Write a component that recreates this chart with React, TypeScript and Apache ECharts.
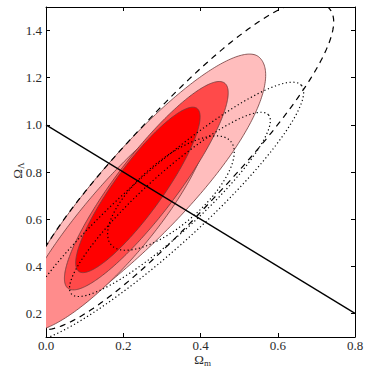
import React, { useEffect, useRef } from "react";
import * as echarts from "echarts";

const xTicks = [0.0, 0.2, 0.4, 0.6, 0.8];
const yTicks = [0.2, 0.4, 0.6, 0.8, 1.0, 1.2, 1.4];
const flatOmegaM = [0.0, 0.8];
const flatOmegaL = [1.0, 0.2];

// contour: [centerX, centerY, tipX, tipY, upperWidthRatio, lowerWidthRatio, upperEgg, lowerEgg, power]
const fillOuter = [0.2389, 0.7088, 0.5518, 1.2871, 0.2308, 0.2527, 0.05, 0.18, 2];
const fillSecond = [0.173, 0.5968, 0.4091, 1.0572, 0.219, 0.2825, 0, 0, 2];
const fillThird = [0.2597, 0.7419, 0.4625, 1.1772, 0.2326, 0.2326, 0, 0, 2];
const fillCore = [0.2379, 0.7241, 0.3909, 1.0699, 0.2386, 0.2386, 0, 0, 2];
const dashedOuter = [0.3435, 0.828, 0.7282, 1.5026, 0.2437, 0.2207, 0, 0, 2.3];
const dottedOuter = [0.2949, 0.6286, 0.6612, 1.1679, 0.2, 0.2, 0, 0, 2];
const dottedMiddle = [0.3209, 0.6626, 0.5759, 1.0427, 0.218, 0.218, 0, 0, 2];
const dottedInner = [0.3235, 0.7105, 0.4781, 0.9303, 0.405, 0.405, 0, 0, 2];

const fillColors = ["#ffbdbd", "#ff8c8c", "#ff4a4a", "#ff0000"];
const FONT = "Liberation Serif";

function contourPoints(api: any) {
  const c = api.coord([api.value(0), api.value(1)]);
  const t = api.coord([api.value(2), api.value(3)]);
  const rUp = api.value(4);
  const rLo = api.value(5);
  const kUp = api.value(6);
  const kLo = api.value(7);
  const p = api.value(8);
  const ux = t[0] - c[0];
  const uy = t[1] - c[1];
  const pts: number[][] = [];
  const N = 300;
  for (let i = 0; i <= N; i++) {
    const th = (i / N) * 2 * Math.PI;
    const co = Math.cos(th);
    const si = Math.sin(th);
    const cc = Math.sign(co) * Math.pow(Math.abs(co), 2 / p);
    const ss = Math.sign(si) * Math.pow(Math.abs(si), 2 / p);
    const r = ss < 0 ? rUp * (1 + kUp * cc) : rLo * (1 + kLo * cc);
    const nx = -uy * r;
    const ny = ux * r;
    pts.push([c[0] + ux * cc + nx * ss, c[1] + uy * cc + ny * ss]);
  }
  return pts;
}

function clipRect(params: any) {
  return {
    type: "rect",
    shape: {
      x: params.coordSys.x,
      y: params.coordSys.y,
      width: params.coordSys.width,
      height: params.coordSys.height,
    },
  };
}

function fillSeries(e: number[], color: string, z: number) {
  return {
    type: "custom",
    coordinateSystem: "cartesian2d",
    clip: true,
    silent: true,
    z,
    data: [e],
    encode: { x: [0, 2], y: [1, 3] },
    renderItem: (params: any, api: any) => ({
      type: "polygon",
      shape: { points: contourPoints(api) },
      clipPath: clipRect(params),
      style: { fill: color, stroke: "#6e3a3a", lineWidth: 0.8 },
    }),
  };
}

function outlineSeries(e: number[], dash: number[], z: number) {
  return {
    type: "custom",
    coordinateSystem: "cartesian2d",
    clip: true,
    silent: true,
    z,
    data: [e],
    encode: { x: [0, 2], y: [1, 3] },
    renderItem: (params: any, api: any) => ({
      type: "polyline",
      shape: { points: contourPoints(api) },
      clipPath: clipRect(params),
      style: {
        fill: "none",
        stroke: "#000",
        lineWidth: 1.2,
        lineDash: dash,
        lineCap: "butt",
      },
    }),
  };
}

export default function App() {
  const ref = useRef<HTMLDivElement>(null);
  useEffect(() => {
    document.body.style.margin = "0";
    const chart = echarts.init(ref.current!, null, { renderer: "svg" });
    const axisLine = { show: true, onZero: false, lineStyle: { color: "#000", width: 1 } };
    const tick = { show: true, inside: true, length: 4, lineStyle: { color: "#000", width: 1 } };
    const fmt = (v: number) => v.toFixed(1);
    const labelStyle = {
      margin: 4,
      fontFamily: FONT,
      fontSize: 13,
      lineHeight: 11,
      color: "#2a2a2a",
      formatter: fmt,
    };
    chart.setOption({
      animation: false,
      grid: { left: 46, top: 7, right: 19, bottom: 37 },
      xAxis: [
        {
          type: "value",
          min: 0,
          max: 0.8,
          interval: 0.2,
          position: "bottom",
          axisLine,
          axisTick: { ...tick, customValues: xTicks },
          axisLabel: { ...labelStyle, customValues: xTicks, margin: 3 },
          splitLine: { show: false },
        },
        {
          type: "value",
          min: 0,
          max: 0.8,
          interval: 0.2,
          position: "top",
          axisLine,
          axisTick: { ...tick, customValues: xTicks },
          axisLabel: { show: false },
          splitLine: { show: false },
        },
      ],
      yAxis: [
        {
          type: "value",
          min: 0.1,
          max: 1.5,
          position: "left",
          axisLine,
          axisTick: { ...tick, customValues: yTicks },
          axisLabel: { ...labelStyle, customValues: yTicks },
          splitLine: { show: false },
        },
        {
          type: "value",
          min: 0.1,
          max: 1.5,
          position: "right",
          axisLine,
          axisTick: { ...tick, customValues: yTicks },
          axisLabel: { show: false },
          splitLine: { show: false },
        },
      ],
      series: [
        fillSeries(fillOuter, fillColors[0], 1),
        fillSeries(fillSecond, fillColors[1], 2),
        fillSeries(fillThird, fillColors[2], 3),
        fillSeries(fillCore, fillColors[3], 4),
        outlineSeries(dashedOuter, [6, 5], 5),
        outlineSeries(dottedOuter, [1.2, 2.6], 5),
        outlineSeries(dottedMiddle, [1.2, 2.6], 5),
        outlineSeries(dottedInner, [1.2, 2.6], 5),
        {
          type: "line",
          data: flatOmegaM.map((x, i) => [x, flatOmegaL[i]]),
          symbol: "none",
          silent: true,
          z: 6,
          lineStyle: { color: "#000", width: 1.3 },
        },
      ],
      graphic: [
        {
          type: "group",
          x: 199,
          y: 359,
          children: [
            {
              type: "text",
              x: 0,
              y: 0,
              style: { text: "Ω", font: `13px '${FONT}'`, lineHeight: 10, fill: "#2a2a2a", align: "center", verticalAlign: "middle" },
            },
            {
              type: "text",
              x: 5,
              y: 4,
              style: { text: "m", font: `9px '${FONT}'`, lineHeight: 8, fill: "#2a2a2a", align: "left", verticalAlign: "middle" },
            },
          ],
        },
        {
          type: "group",
          x: 17,
          y: 174,
          rotation: Math.PI / 2,
          children: [
            {
              type: "text",
              x: 0,
              y: 0,
              style: { text: "Ω", font: `13px '${FONT}'`, lineHeight: 10, fill: "#2a2a2a", align: "center", verticalAlign: "middle" },
            },
            {
              type: "text",
              x: 5,
              y: 4,
              style: { text: "Λ", font: `9px '${FONT}'`, lineHeight: 8, fill: "#2a2a2a", align: "left", verticalAlign: "middle" },
            },
          ],
        },
      ],
    });
    return () => chart.dispose();
  }, []);
  return <div ref={ref} style={{ width: 374, height: 374 }} />;
}
